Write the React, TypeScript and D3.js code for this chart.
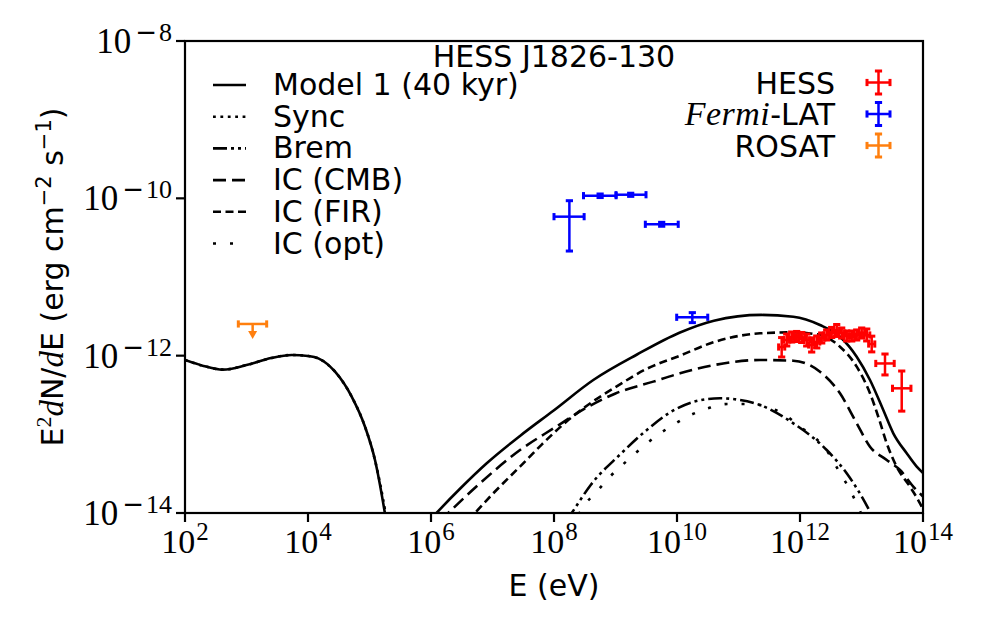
import React from 'react';
import * as d3 from 'd3';

// ---------- axis ticks ----------
const xTickValues = [1e2, 1e4, 1e6, 1e8, 1e10, 1e12, 1e14];
const xTickExps = ['2', '4', '6', '8', '10', '12', '14'];
const yTickValues = [1e-14, 1e-12, 1e-10, 1e-8];
const yTickExps = ['14', '12', '10', '8'];

// ---------- model curves: log10 E [eV], log10 E^2 dN/dE [erg cm^-2 s^-1] ----------
const modelLowLogE = [2.0, 2.3, 2.613, 3.0, 3.4, 3.735, 4.0, 4.168, 4.44, 4.71, 4.927, 5.09, 5.25, 5.35];
const modelLowLogF = [-12.055, -12.13, -12.178, -12.12, -12.03, -11.991, -12.004, -12.034, -12.204, -12.52, -12.903, -13.33, -14.0, -14.5];

const modelHighLogE = [5.95, 6.09, 6.5, 6.906, 7.447, 7.989, 8.639, 9.35, 10.049, 10.6, 11.372, 11.891, 12.325, 12.65, 12.922, 13.138, 13.354, 13.517, 13.735, 13.898, 14.005];
const modelHighLogF = [-14.12, -14.0, -13.67, -13.368, -13.02, -12.7, -12.309, -11.985, -11.705, -11.555, -11.482, -11.505, -11.61, -11.759, -12.013, -12.309, -12.691, -12.987, -13.241, -13.411, -13.495];

const syncLogE = [2.0, 2.3, 2.613, 3.0, 3.4, 3.735, 4.0, 4.168, 4.44, 4.71, 4.927, 5.09, 5.26, 5.36];
const syncLogF = [-12.055, -12.13, -12.178, -12.12, -12.03, -11.991, -12.004, -12.034, -12.204, -12.52, -12.903, -13.33, -14.0, -14.5];

const bremLogE = [8.2, 8.288, 8.6, 9.07, 9.5, 9.89, 10.3, 10.699, 11.0, 11.35, 11.891, 12.434, 12.759, 13.138, 13.2];
const bremLogF = [-14.1, -14.0, -13.64, -13.26, -12.95, -12.72, -12.58, -12.542, -12.56, -12.627, -12.86, -13.199, -13.495, -13.983, -14.08];

const cmbLogE = [6.15, 6.281, 6.8, 7.447, 8.0, 8.532, 9.0, 9.615, 10.049, 10.6, 11.35, 11.891, 12.325, 12.65, 12.922, 13.138, 13.41, 13.626, 13.842, 14.005];
const cmbLogF = [-14.1, -14.0, -13.62, -13.2, -12.92, -12.66, -12.48, -12.33, -12.224, -12.12, -12.055, -12.064, -12.204, -12.478, -12.86, -13.157, -13.326, -13.453, -13.665, -13.793];

const firLogE = [6.6, 6.715, 7.0, 7.447, 7.8, 8.2, 8.6, 9.0, 9.5, 10.049, 10.59, 11.0, 11.35, 11.891, 12.325, 12.65, 12.922, 13.138, 13.273, 13.41, 13.571, 13.789, 13.951, 14.005];
const firLogF = [-14.1, -14.0, -13.76, -13.41, -13.13, -12.84, -12.6, -12.4, -12.17, -12.0, -11.83, -11.75, -11.716, -11.703, -11.737, -11.886, -12.14, -12.478, -12.776, -13.114, -13.411, -13.666, -13.877, -13.962];

const optLogE = [8.4, 8.477, 8.694, 8.911, 9.154, 9.398, 9.648, 9.919, 10.2, 10.504, 10.818, 11.16, 11.459, 11.756, 12.0, 12.271, 12.46, 12.622, 12.813, 12.948, 13.0];
const optLogF = [-14.02, -13.92, -13.729, -13.538, -13.36, -13.19, -13.03, -12.89, -12.763, -12.669, -12.614, -12.614, -12.649, -12.754, -12.903, -13.063, -13.233, -13.453, -13.707, -13.927, -14.02];

// ---------- data points ----------
const hessLogE = [11.702, 11.784, 11.865, 11.946, 12.028, 12.109, 12.19, 12.272, 12.353, 12.434, 12.515, 12.597, 12.678, 12.759, 12.841, 12.922, 13.003, 13.085, 13.166, 13.382, 13.654];
const hessLogF = [-11.89, -11.801, -11.763, -11.756, -11.769, -11.801, -11.864, -11.826, -11.775, -11.737, -11.705, -11.68, -11.712, -11.75, -11.75, -11.737, -11.712, -11.737, -11.852, -12.099, -12.415];
const hessErrUp = [0.12, 0.076, 0.064, 0.064, 0.064, 0.076, 0.09, 0.076, 0.064, 0.064, 0.064, 0.076, 0.064, 0.064, 0.064, 0.064, 0.064, 0.076, 0.1, 0.12, 0.22];
const hessErrDown = [0.127, 0.076, 0.064, 0.064, 0.064, 0.076, 0.09, 0.076, 0.064, 0.064, 0.064, 0.076, 0.064, 0.064, 0.064, 0.064, 0.064, 0.076, 0.1, 0.146, 0.29];
const hessErrE = [0.05, 0.05, 0.05, 0.05, 0.05, 0.05, 0.05, 0.05, 0.05, 0.05, 0.05, 0.05, 0.05, 0.05, 0.05, 0.05, 0.05, 0.05, 0.05, 0.15, 0.15];

const fermiLogE = [8.25, 8.75, 9.247, 9.751, 10.249];
const fermiLogELo = [8.0, 8.48, 9.008, 9.485, 9.995];
const fermiLogEHi = [8.49, 9.01, 9.496, 10.02, 10.5];
const fermiLogF = [-10.233, -9.966, -9.954, -10.33, -11.512];
const fermiLogFLo = [-10.67, -9.99, -9.975, -10.355, -11.58];
const fermiLogFHi = [-10.03, -9.945, -9.935, -10.305, -11.453];

const rosatLogE = [3.1];
const rosatLogELo = [2.867];
const rosatLogEHi = [3.328];
const rosatLogF = [-11.597];

const modelLegend = ['Model 1 (40 kyr)', 'Sync', 'Brem', 'IC (CMB)', 'IC (FIR)', 'IC (opt)'];
const modelDashes = ['', '2.8 4.6', '14 4 3 4 3 4', '13 6', '8 4.5', '3 14'];

// ---------- layout ----------
const W = 987;
const H = 636;
const L = 185, R = 923, T = 41, B = 513;
const SANS = 'DejaVu Sans';
const SERIF = 'Liberation Serif';
const LW = 2.6;
const CAP = 3.6;

const x = d3.scaleLog().domain([1e2, 1e14]).range([L, R]);
const y = d3.scaleLog().domain([1e-14, 1e-8]).range([B, T]);

const pow = (v: number) => Math.pow(10, v);
const toPts = (le: number[], lf: number[]) => le.map((e, i) => [pow(e), pow(lf[i])] as [number, number]);
const line = d3
  .line<[number, number]>()
  .x((d) => x(d[0]))
  .y((d) => y(d[1]))
  .curve(d3.curveMonotoneX);

function ErrBar({ cx, cy, x0, x1, y0, y1, color }: any) {
  return (
    <g stroke={color} strokeWidth={2.5} fill="none">
      <line x1={x0} x2={x1} y1={cy} y2={cy} />
      <line x1={cx} x2={cx} y1={y0} y2={y1} />
      <line x1={x0} x2={x0} y1={cy - CAP} y2={cy + CAP} strokeWidth={3} />
      <line x1={x1} x2={x1} y1={cy - CAP} y2={cy + CAP} strokeWidth={3} />
      <line x1={cx - CAP} x2={cx + CAP} y1={y0} y2={y0} strokeWidth={3} />
      <line x1={cx - CAP} x2={cx + CAP} y1={y1} y2={y1} strokeWidth={3} />
    </g>
  );
}

export default function App() {
  const curves = [
    { d: line(toPts(optLogE, optLogF)), dash: modelDashes[5] },
    { d: line(toPts(bremLogE, bremLogF)), dash: modelDashes[2] },
    { d: line(toPts(cmbLogE, cmbLogF)), dash: modelDashes[3] },
    { d: line(toPts(firLogE, firLogF)), dash: modelDashes[4] },
    { d: line(toPts(syncLogE, syncLogF)), dash: modelDashes[1] },
    { d: line(toPts(modelLowLogE, modelLowLogF)), dash: '' },
    { d: line(toPts(modelHighLogE, modelHighLogF)), dash: '' },
  ];

  const legendBase = (i: number) => 95 + 31.7 * i;
  const rightBase = (i: number) => 93.5 + 31.5 * i;

  return (
    <svg width={W} height={H} style={{ position: 'absolute', left: 0, top: 0, background: '#fff' }}>
      <rect x={0} y={0} width={W} height={H} fill="#fff" />
      <defs>
        <clipPath id="plotclip">
          <rect x={L} y={T} width={R - L} height={B - T} />
        </clipPath>
      </defs>

      <g clipPath="url(#plotclip)">
        {curves.map((c, i) => (
          <path key={i} d={c.d || ''} fill="none" stroke="#000" strokeWidth={LW} strokeDasharray={c.dash || undefined} />
        ))}

        {/* ROSAT upper limit */}
        {rosatLogE.map((e, i) => {
          const cx = x(pow(e));
          const cy = y(pow(rosatLogF[i]));
          const x0 = x(pow(rosatLogELo[i]));
          const x1 = x(pow(rosatLogEHi[i]));
          const c = '#ff7f0e';
          return (
            <g key={'r' + i}>
              <g stroke={c} strokeWidth={2.5}>
                <line x1={x0} x2={x1} y1={cy} y2={cy} />
                <line x1={x0} x2={x0} y1={cy - CAP} y2={cy + CAP} strokeWidth={3} />
                <line x1={x1} x2={x1} y1={cy - CAP} y2={cy + CAP} strokeWidth={3} />
                <line x1={cx} x2={cx} y1={cy} y2={cy + 8} />
              </g>
              <path d={`M${cx - 4.5},${cy + 7} L${cx + 4.5},${cy + 7} L${cx},${cy + 15} Z`} fill={c} />
            </g>
          );
        })}

        {/* Fermi-LAT */}
        {fermiLogE.map((e, i) => (
          <ErrBar
            key={'f' + i}
            cx={x(pow(e))}
            cy={y(pow(fermiLogF[i]))}
            x0={x(pow(fermiLogELo[i]))}
            x1={x(pow(fermiLogEHi[i]))}
            y0={y(pow(fermiLogFHi[i]))}
            y1={y(pow(fermiLogFLo[i]))}
            color="#0000ff"
          />
        ))}

        {/* HESS */}
        {hessLogE.map((e, i) => (
          <ErrBar
            key={'h' + i}
            cx={x(pow(e))}
            cy={y(pow(hessLogF[i]))}
            x0={x(pow(e - hessErrE[i]))}
            x1={x(pow(e + hessErrE[i]))}
            y0={y(pow(hessLogF[i] + hessErrUp[i]))}
            y1={y(pow(hessLogF[i] - hessErrDown[i]))}
            color="#ff0000"
          />
        ))}
      </g>

      {/* spines */}
      <rect x={L} y={T} width={R - L} height={B - T} fill="none" stroke="#000" strokeWidth={2.2} />

      {/* x ticks */}
      {xTickValues.map((v, i) => (
        <g key={'xt' + i}>
          <line x1={x(v)} x2={x(v)} y1={B} y2={B + 9} stroke="#000" strokeWidth={2.2} />
          <text x={x(v)} y={553} textAnchor="middle" fontFamily={SERIF} fontSize={34}>
            <tspan>10</tspan>
            <tspan fontSize={25} dy={-13} dx={1}>
              {xTickExps[i]}
            </tspan>
          </text>
        </g>
      ))}

      {/* y ticks */}
      {yTickValues.map((v, i) => (
        <g key={'yt' + i}>
          <line x1={L - 9} x2={L} y1={y(v)} y2={y(v)} stroke="#000" strokeWidth={2.2} />
          <text x={172} y={y(v) + 12} textAnchor="end" fontFamily={SERIF} fontSize={35}>
            <tspan>10</tspan>
            <tspan fontFamily={SANS} fontSize={26} dy={-12} dx={4}>
              −
            </tspan>
            <tspan fontSize={26} dx={2}>
              {yTickExps[i]}
            </tspan>
          </text>
        </g>
      ))}

      {/* axis labels */}
      <text x={554} y={596} textAnchor="middle" fontFamily={SANS} fontSize={30}>
        E (eV)
      </text>
      <text
        transform={`translate(63,277) rotate(-90)`}
        textAnchor="middle"
        fontFamily={SANS}
        fontSize={30}
        style={{ whiteSpace: 'pre' }}
      >
        <tspan>E</tspan>
        <tspan fontFamily={SERIF} fontSize={22} dy={-12}>2</tspan>
        <tspan fontFamily={SERIF} fontStyle="italic" fontSize={33} dy={12}>d</tspan>
        <tspan>N/</tspan>
        <tspan fontFamily={SERIF} fontStyle="italic" fontSize={33}>d</tspan>
        <tspan>E (erg cm</tspan>
        <tspan fontSize={21} dy={-12}>−2</tspan>
        <tspan dy={12}> s</tspan>
        <tspan fontSize={21} dy={-12}>−1</tspan>
        <tspan dy={12}>)</tspan>
      </text>

      {/* title */}
      <text x={554} y={67} textAnchor="middle" fontFamily={SANS} fontSize={30}>
        HESS J1826-130
      </text>

      {/* model legend */}
      {modelLegend.map((name, i) => (
        <g key={'lg' + i}>
          <line
            x1={213}
            x2={246}
            y1={legendBase(i) - 10}
            y2={legendBase(i) - 10}
            stroke="#000"
            strokeWidth={LW}
            strokeDasharray={modelDashes[i] || undefined}
          />
          <text x={273} y={legendBase(i)} fontFamily={SANS} fontSize={30}>
            {name}
          </text>
        </g>
      ))}

      {/* data legend */}
      <text x={835} y={rightBase(0)} textAnchor="end" fontFamily={SANS} fontSize={30}>
        HESS
      </text>
      <text x={835} y={rightBase(1)} textAnchor="end" fontFamily={SANS} fontSize={30}>
        <tspan fontFamily={SERIF} fontStyle="italic" fontSize={34} letterSpacing={0.5}>Fermi</tspan>
        <tspan>-LAT</tspan>
      </text>
      <text x={835} y={rightBase(2)} textAnchor="end" fontFamily={SANS} fontSize={30}>
        ROSAT
      </text>
      {['#ff0000', '#0000ff', '#ff7f0e'].map((c, i) => {
        const cy = rightBase(i) - 11;
        const cx = 878.5;
        return (
          <ErrBar key={'lm' + i} cx={cx} cy={cy} x0={cx - 11.5} x1={cx + 11.5} y0={cy - 11.5} y1={cy + 11.5} color={c} />
        );
      })}
    </svg>
  );
}
